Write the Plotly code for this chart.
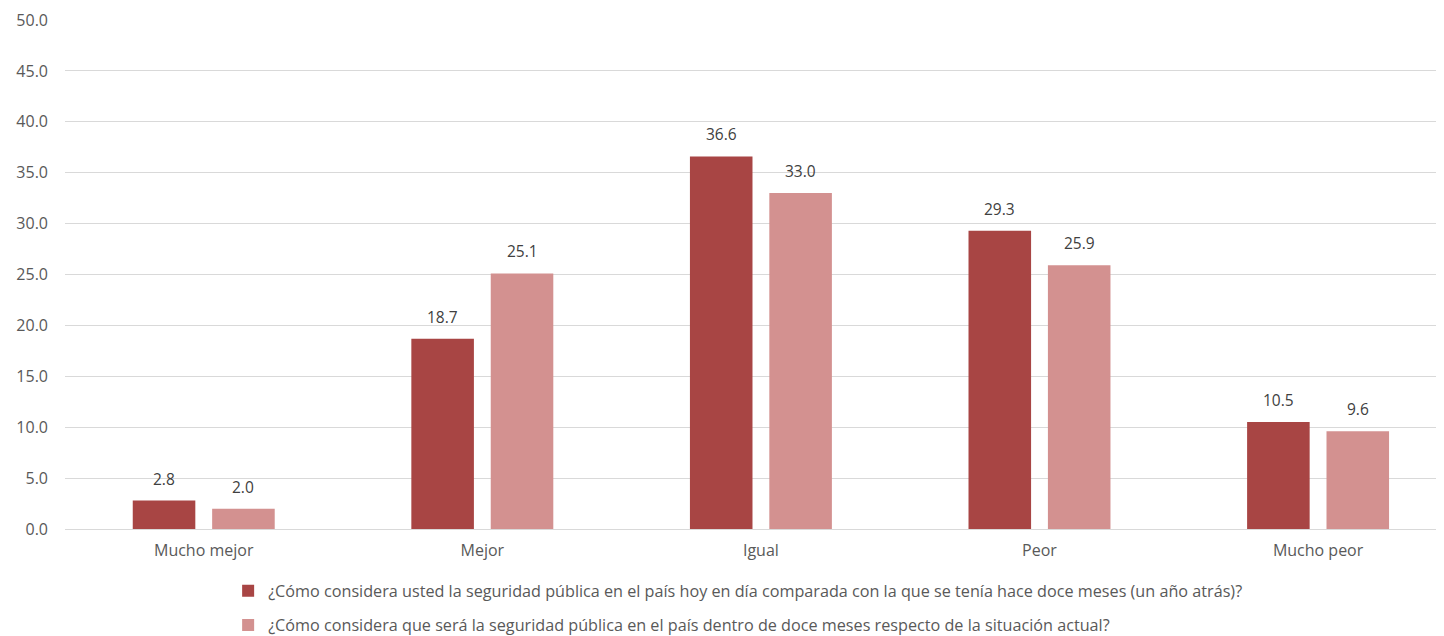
import plotly.graph_objects as go

categories = ["Mucho mejor", "Mejor", "Igual", "Peor", "Mucho peor"]
series1_name = "¿Cómo considera usted la seguridad pública en el país hoy en día comparada con la que se tenía hace doce meses (un año atrás)?"
series2_name = "¿Cómo considera que será la seguridad pública en el país dentro de doce meses respecto de la situación actual?"
series1 = [2.8, 18.7, 36.6, 29.3, 10.5]
series2 = [2.0, 25.1, 33.0, 25.9, 9.6]
y_ticks = [0, 5, 10, 15, 20, 25, 30, 35, 40, 45, 50]

font_family = "Open Sans, Liberation Sans, Arial, sans-serif"

W, H = 1436, 628
ML, MR, MT, MB = 57, 0, 12, 107
X_RANGE = [-0.498, 4.452]
BARGAP = 0.43
BARGROUPGAP = 0.212

# pixel offset of each bar's centre from its category centre (derived from layout)
px_per_unit = (W - ML - MR) / (X_RANGE[1] - X_RANGE[0])
slot = (1 - BARGAP) / 2 * px_per_unit
offsets = [-slot / 2, slot / 2]

fig = go.Figure()
fig.add_trace(go.Bar(
    x=categories, y=series1, name=series1_name,
    marker=dict(color="#A84544", line=dict(width=0)),
    legendgroup="a",
))
fig.add_trace(go.Bar(
    x=categories, y=series2, name=series2_name,
    marker=dict(color="#D39190", line=dict(width=0)),
    legendgroup="b",
))

annotations = []
for series, off in ((series1, offsets[0]), (series2, offsets[1])):
    for cat, v in zip(categories, series):
        annotations.append(dict(
            x=cat, y=v, xref="x", yref="y", text=f"{v:.1f}",
            showarrow=False, yanchor="bottom", xanchor="center",
            xshift=off, yshift=9,
            font=dict(size=15.5, color="#404040", family=font_family),
        ))

fig.update_layout(
    width=W, height=H,
    margin=dict(l=ML, r=MR, t=MT, b=MB, autoexpand=False),
    paper_bgcolor="white", plot_bgcolor="white",
    barmode="group", bargap=BARGAP, bargroupgap=BARGROUPGAP,
    font=dict(family=font_family, size=15, color="#595959"),
    showlegend=True,
    annotations=annotations,
    legend=dict(
        orientation="v", x=0.1183, xanchor="left", y=-0.088, yanchor="top",
        font=dict(size=16.2, color="#595959", family=font_family),
        tracegroupgap=10, itemwidth=30,
    ),
    xaxis=dict(
        range=X_RANGE, showgrid=False, showline=False, zeroline=False,
        tickfont=dict(size=16, color="#595959"), ticks="",
        ticklabelstandoff=10, automargin=False,
    ),
    yaxis=dict(
        range=[0, 50], tickvals=y_ticks, ticktext=[f"{v:.1f}" for v in y_ticks],
        showgrid=True, gridcolor="#D9D9D9", gridwidth=1,
        zeroline=True, zerolinecolor="#D9D9D9", zerolinewidth=1,
        showline=False, ticks="", ticklabelstandoff=16,
        tickfont=dict(size=16, color="#595959"), automargin=False,
    ),
)

fig.write_html("out.html")
